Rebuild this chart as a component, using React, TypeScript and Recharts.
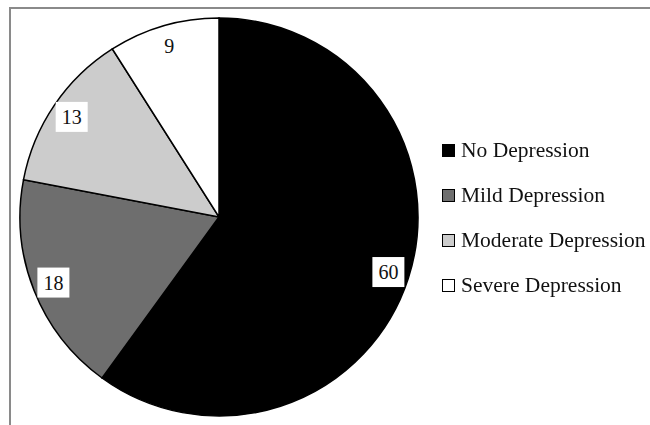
import { Legend, Pie, PieChart, Cell } from 'recharts';

const categories = ['No Depression', 'Mild Depression', 'Moderate Depression', 'Severe Depression'];
const values = [60, 18, 13, 9];
const fills = ['#000000', '#6e6e6e', '#cccccc', '#ffffff'];

const chartData = categories.map((name, i) => ({ name, value: values[i] }));

const RADIAN = Math.PI / 180;

const renderLabel = (props: any) => {
  const { cx, cy, midAngle, outerRadius, value, index } = props;
  const r = outerRadius * 0.895;
  const x = cx + r * Math.cos(-midAngle * RADIAN);
  const y = cy + r * Math.sin(-midAngle * RADIAN);
  const boxW = index === 3 ? 0 : 32;
  return (
    <g>
      {boxW > 0 && <rect x={x - boxW / 2} y={y - 15} width={boxW} height={30} fill="#ffffff" />}
      <text
        x={x}
        y={y}
        textAnchor="middle"
        dominantBaseline="central"
        fontFamily="'Liberation Serif', serif"
        fontSize={20}
        fill="#111"
      >
        {value}
      </text>
    </g>
  );
};

const renderLegend = () => (
  <div style={{ fontFamily: "'Liberation Serif', serif", fontSize: 21.5, color: '#111' }}>
    {categories.map((name, i) => (
      <div key={name} style={{ display: 'flex', alignItems: 'center', height: 45 }}>
        <span
          style={{
            display: 'inline-block',
            width: 11,
            height: 11,
            background: fills[i],
            border: '1.5px solid #000',
            marginRight: 6,
          }}
        />
        <span>{name}</span>
      </div>
    ))}
  </div>
);

const App = () => {
  return (
    <div style={{ position: 'fixed', left: 0, top: 0, width: 650, height: 425, background: '#fff' }}>
      <div
        style={{
          position: 'absolute',
          left: 9,
          top: 7,
          right: 0,
          bottom: 0,
          borderLeft: '2px solid #8a8a8a',
          borderTop: '2px solid #8a8a8a',
        }}
      />
      <PieChart
        width={650}
        height={425}
        margin={{ top: 0, right: 0, bottom: 0, left: 0 }}
        style={{ position: 'absolute', left: 0, top: 0 }}
      >
        <Pie
          data={chartData}
          dataKey="value"
          nameKey="name"
          cx={219}
          cy={217}
          outerRadius={199}
          startAngle={90}
          endAngle={-270}
          stroke="#000"
          strokeWidth={1.5}
          label={renderLabel}
          labelLine={false}
          isAnimationActive={false}
        >
          {chartData.map((d, i) => (
            <Cell key={d.name} fill={fills[i]} />
          ))}
        </Pie>
        <Legend
          content={renderLegend}
          layout="vertical"
          wrapperStyle={{ left: 442, top: 128, width: 210 }}
        />
      </PieChart>
    </div>
  );
};

export default App;
